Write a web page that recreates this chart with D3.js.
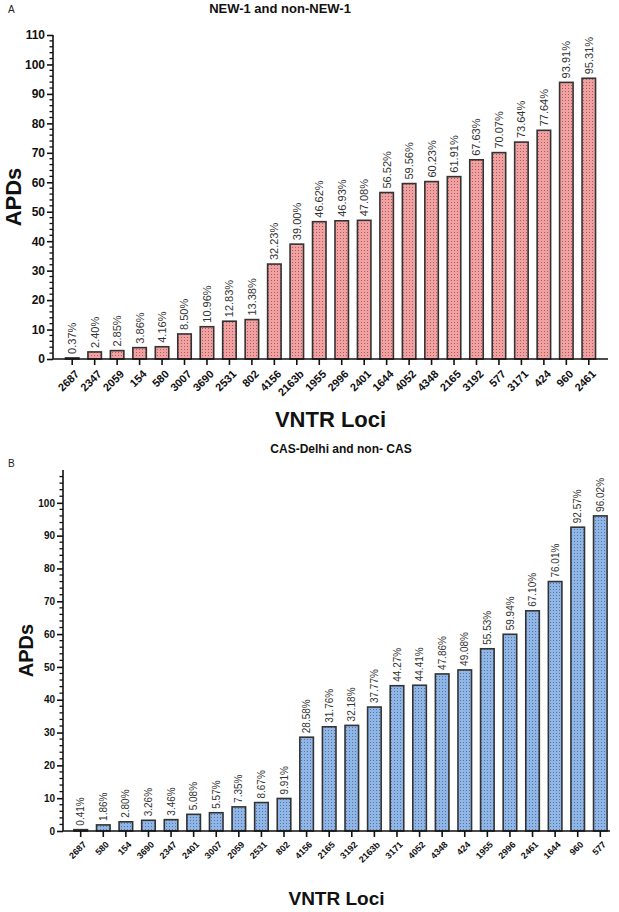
<!DOCTYPE html>
<html><head><meta charset="utf-8">
<script src="https://cdn.jsdelivr.net/npm/d3@7"></script>
<style>
body{margin:0;background:#fff;}
svg{display:block;font-family:"Liberation Sans",Arial,sans-serif;}
</style></head>
<body>
<svg id="c" width="619" height="912"></svg>
<script>
// Panel A data
const lociA = ["2687","2347","2059","154","580","3007","3690","2531","802","4156","2163b","1955","2996","2401","1644","4052","4348","2165","3192","577","3171","424","960","2461"];
const valuesA = [0.37,2.40,2.85,3.86,4.16,8.50,10.96,12.83,13.38,32.23,39.00,46.62,46.93,47.08,56.52,59.56,60.23,61.91,67.63,70.07,73.64,77.64,93.91,95.31];
// Panel B data
const lociB = ["2687","580","154","3690","2347","2401","3007","2059","2531","802","4156","2165","3192","2163b","3171","4052","4348","424","1955","2996","2461","1644","960","577"];
const valuesB = [0.41,1.86,2.80,3.26,3.46,5.08,5.57,7.35,8.67,9.91,28.58,31.76,32.18,37.77,44.27,44.41,47.86,49.08,55.53,59.94,67.10,76.01,92.57,96.02];
const yTicksA = [0,10,20,30,40,50,60,70,80,90,100,110];
const yTicksB = [0,10,20,30,40,50,60,70,80,90,100];

const svg = d3.select("#c");
const defs = svg.append("defs");
function pattern(id, fill){
  const p = defs.append("pattern").attr("id", id).attr("patternUnits","userSpaceOnUse")
    .attr("width",3).attr("height",3);
  p.append("rect").attr("width",3).attr("height",3).attr("fill",fill);
  p.append("rect").attr("x",1).attr("y",1).attr("width",1).attr("height",1).attr("fill","#5a4a4a").attr("opacity",0.65);
}
pattern("patA","#f4a0a0");
pattern("patB","#8db6ea");

function panel(o){
  const g = svg.append("g");
  const x = d3.scaleBand().domain(o.loci).range(o.xr).paddingInner(0.4).paddingOuter(o.po);
  const y = d3.scaleLinear().domain([0,110]).range(o.yr);
  // bars
  g.selectAll("rect.bar").data(o.values).join("rect")
    .attr("x",(d,i)=>x(o.loci[i])).attr("width",x.bandwidth())
    .attr("y",d=>y(d)).attr("height",d=>y(0)-y(d))
    .attr("fill","url(#"+o.pat+")").attr("stroke","#333").attr("stroke-width",1.6);
  // value labels
  g.selectAll("text.val").data(o.values).join("text")
    .attr("transform",(d,i)=>`translate(${x(o.loci[i])+x.bandwidth()/2+o.valSize*0.36},${y(d)-4}) rotate(-90)`)
    .attr("font-size",o.valSize).attr("fill","#333")
    .text(d=>d.toFixed(2)+"%");
  // y axis minor ticks
  const minor = d3.range(0,111,2).filter(v=>v%10!==0);
  g.selectAll("line.minor").data(minor).join("line")
    .attr("x1",o.xr[0]-3.5).attr("x2",o.xr[0]).attr("y1",d=>y(d)).attr("y2",d=>y(d))
    .attr("stroke","#111").attr("stroke-width",1.3);
  const yAxis = g.append("g").attr("transform",`translate(${o.xr[0]},0)`)
    .call(d3.axisLeft(y).tickValues(o.yTicks).tickSize(6).tickPadding(2).tickFormat(d3.format("d")).tickSizeOuter(0));
  yAxis.select(".domain").attr("stroke","#111").attr("stroke-width",1.6).attr("d",`M0,${y(110)}V${y(0)}`);
  yAxis.selectAll(".tick line").attr("stroke","#111").attr("stroke-width",1.6);
  yAxis.selectAll(".tick text").attr("font-size",o.ytSize).attr("font-weight","bold").attr("fill","#111")
    .attr("font-family","Liberation Sans, Arial, sans-serif");
  // x axis
  const xAxis = g.append("g").attr("transform",`translate(0,${o.yr[0]})`)
    .call(d3.axisBottom(x).tickSize(6).tickSizeOuter(0));
  xAxis.select(".domain").attr("stroke","#111").attr("stroke-width",1.6).attr("d",`M${o.xr[0]},0H${o.xEnd}`);
  xAxis.selectAll(".tick line").attr("stroke","#111").attr("stroke-width",1.6);
  xAxis.selectAll(".tick text").attr("font-size",o.xtSize).attr("font-weight","bold").attr("fill","#111")
    .attr("font-family","Liberation Sans, Arial, sans-serif")
    .attr("text-anchor","end").attr("dy","0.35em").attr("y",0)
    .attr("transform",`translate(${o.xtDx},${o.xtDy}) rotate(-45)`);
  // titles
  svg.append("text").attr("x",8).attr("y",o.letterY).attr("font-size",10).attr("fill","#222").text(o.letter);
  svg.append("text").attr("x",o.titleX).attr("y",o.titleY).attr("text-anchor","middle")
    .attr("font-size",o.titleSize).attr("font-weight","bold").attr("fill","#111").text(o.title);
  svg.append("text").attr("x",(o.xr[0]+o.xEnd)/2).attr("y",o.xlabY).attr("text-anchor","middle")
    .attr("font-size",o.xlabSize).attr("font-weight","bold").attr("fill","#111").text("VNTR Loci");
  svg.append("text").attr("transform",`translate(${o.ylabX},${(o.yr[0]+o.yr[1])/2}) rotate(-90)`)
    .attr("text-anchor","middle").attr("font-size",o.ylabSize).attr("font-weight","bold").attr("fill","#111").text("APDs");
}

panel({loci:lociA, values:valuesA, yTicks:yTicksA, xr:[53,608], xEnd:608, po:0.555, yr:[359,35], pat:"patA",
  valSize:11, ytSize:12, xtSize:11, xtDx:5, xtDy:13, letter:"A", letterY:13, title:"NEW-1 and non-NEW-1", titleX:280, titleY:13, titleSize:13,
  xlabY:427, xlabSize:22, ylabX:21, ylabSize:22});
panel({loci:lociB, values:valuesB, yTicks:yTicksB, xr:[63,618], xEnd:610, po:0.483, yr:[831,470], pat:"patB",
  valSize:10, ytSize:10, xtSize:9, xtDx:4, xtDy:12, letter:"B", letterY:467, title:"CAS-Delhi and non- CAS", titleX:341, titleY:453, titleSize:12,
  xlabY:905, xlabSize:19, ylabX:33, ylabSize:20});
</script>
</body></html>
